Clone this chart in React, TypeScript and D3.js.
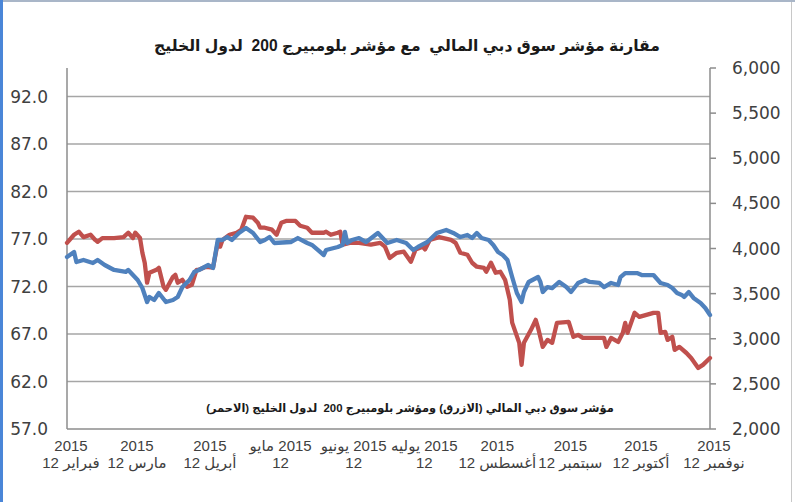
import React from 'react';
import * as d3 from 'd3';

// Bloomberg GCC 200 (left axis, red)
const gccSeries: [string, number][] = [
  ['2015-02-12', 76.6], ['2015-02-15', 77.45], ['2015-02-17', 77.77], ['2015-02-19', 77.2],
  ['2015-02-22', 77.45], ['2015-02-24', 76.9], ['2015-02-25', 76.7], ['2015-02-27', 77.1],
  ['2015-03-04', 77.1], ['2015-03-08', 77.2], ['2015-03-10', 77.66], ['2015-03-12', 77.1],
  ['2015-03-13', 77.66], ['2015-03-15', 77.1], ['2015-03-16', 75.55], ['2015-03-17', 74.5],
  ['2015-03-18', 72.4], ['2015-03-19', 73.45], ['2015-03-22', 73.76], ['2015-03-23', 73.97],
  ['2015-03-25', 71.97], ['2015-03-26', 71.65], ['2015-03-29', 73.02], ['2015-03-30', 73.23],
  ['2015-03-31', 72.4], ['2015-04-02', 72.7], ['2015-04-04', 71.97], ['2015-04-06', 72.18],
  ['2015-04-08', 73.76], ['2015-04-09', 73.76], ['2015-04-12', 74.08], ['2015-04-15', 74.0],
  ['2015-04-17', 76.6], ['2015-04-18', 76.19], ['2015-04-19', 76.9], ['2015-04-22', 77.45],
  ['2015-04-25', 77.66], ['2015-04-27', 77.98], ['2015-04-29', 79.34], ['2015-05-02', 79.24],
  ['2015-05-04', 78.72], ['2015-05-05', 78.19], ['2015-05-07', 78.19], ['2015-05-10', 77.98],
  ['2015-05-12', 77.45], ['2015-05-14', 78.72], ['2015-05-16', 78.9], ['2015-05-20', 78.9],
  ['2015-05-22', 78.4], ['2015-05-25', 78.19], ['2015-05-27', 77.66], ['2015-06-01', 77.66],
  ['2015-06-02', 77.77], ['2015-06-04', 77.45], ['2015-06-07', 77.66], ['2015-06-08', 77.77],
  ['2015-06-09', 76.4], ['2015-06-12', 76.6], ['2015-06-16', 76.6], ['2015-06-21', 76.4],
  ['2015-06-25', 76.6], ['2015-06-27', 76.19], ['2015-06-29', 75.0], ['2015-07-02', 75.55],
  ['2015-07-05', 75.66], ['2015-07-08', 74.6], ['2015-07-10', 75.9], ['2015-07-13', 76.19],
  ['2015-07-14', 75.9], ['2015-07-16', 76.9], ['2015-07-20', 77.2], ['2015-07-25', 76.9],
  ['2015-07-27', 76.6], ['2015-07-29', 75.55], ['2015-08-01', 75.34], ['2015-08-03', 74.5],
  ['2015-08-05', 74.08], ['2015-08-08', 73.97], ['2015-08-09', 73.55], ['2015-08-11', 74.5],
  ['2015-08-13', 73.45], ['2015-08-15', 73.55], ['2015-08-17', 72.7], ['2015-08-19', 70.6],
  ['2015-08-20', 68.2], ['2015-08-23', 66.07], ['2015-08-24', 63.75], ['2015-08-25', 66.07],
  ['2015-08-28', 67.44], ['2015-08-30', 68.49], ['2015-08-31', 67.65], ['2015-09-02', 65.64],
  ['2015-09-04', 66.38], ['2015-09-06', 66.07], ['2015-09-08', 68.17], ['2015-09-13', 68.28],
  ['2015-09-15', 66.7], ['2015-09-17', 66.91], ['2015-09-19', 66.59], ['2015-09-28', 66.59],
  ['2015-09-29', 65.64], ['2015-10-01', 66.59], ['2015-10-04', 66.17], ['2015-10-06', 67.12],
  ['2015-10-07', 68.17], ['2015-10-08', 67.12], ['2015-10-11', 69.23], ['2015-10-13', 68.8],
  ['2015-10-19', 69.23], ['2015-10-21', 69.23], ['2015-10-22', 67.12], ['2015-10-24', 67.23],
  ['2015-10-25', 66.38], ['2015-10-27', 66.7], ['2015-10-28', 65.33], ['2015-10-30', 65.64],
  ['2015-11-02', 65.0], ['2015-11-04', 64.48], ['2015-11-07', 63.43], ['2015-11-09', 63.75],
  ['2015-11-12', 64.48],
];

// Dubai Financial Market index (right axis, blue)
const dfmSeries: [string, number][] = [
  ['2015-02-12', 3906], ['2015-02-15', 3961], ['2015-02-16', 3850], ['2015-02-19', 3873],
  ['2015-02-23', 3839], ['2015-02-25', 3873], ['2015-02-28', 3817], ['2015-03-04', 3762],
  ['2015-03-09', 3740], ['2015-03-10', 3762], ['2015-03-12', 3706], ['2015-03-14', 3651],
  ['2015-03-16', 3562], ['2015-03-18', 3407], ['2015-03-19', 3463], ['2015-03-21', 3429],
  ['2015-03-23', 3507], ['2015-03-26', 3407], ['2015-03-29', 3429], ['2015-03-31', 3463],
  ['2015-04-02', 3573], ['2015-04-05', 3651], ['2015-04-07', 3740], ['2015-04-09', 3762],
  ['2015-04-13', 3817], ['2015-04-15', 3784], ['2015-04-17', 4094], ['2015-04-19', 4094],
  ['2015-04-21', 4127], ['2015-04-23', 4094], ['2015-04-26', 4172], ['2015-04-29', 4227],
  ['2015-05-02', 4172], ['2015-05-05', 4072], ['2015-05-07', 4094], ['2015-05-09', 4127],
  ['2015-05-11', 4061], ['2015-05-18', 4072], ['2015-05-21', 4116], ['2015-05-25', 4061],
  ['2015-05-27', 4039], ['2015-06-01', 3928], ['2015-06-02', 3983], ['2015-06-07', 4017],
  ['2015-06-09', 4039], ['2015-06-10', 4183], ['2015-06-11', 4061], ['2015-06-13', 4094],
  ['2015-06-16', 4116], ['2015-06-19', 4072], ['2015-06-24', 4172], ['2015-06-28', 4061],
  ['2015-07-02', 4094], ['2015-07-06', 4061], ['2015-07-09', 3983], ['2015-07-11', 4017],
  ['2015-07-15', 4072], ['2015-07-19', 4172], ['2015-07-23', 4205], ['2015-07-26', 4172],
  ['2015-07-29', 4127], ['2015-08-01', 4150], ['2015-08-03', 4116], ['2015-08-05', 4172],
  ['2015-08-07', 4116], ['2015-08-10', 4094], ['2015-08-12', 4039], ['2015-08-14', 3961],
  ['2015-08-16', 3928], ['2015-08-18', 3873], ['2015-08-20', 3684], ['2015-08-22', 3507],
  ['2015-08-24', 3407], ['2015-08-25', 3518], ['2015-08-27', 3629], ['2015-08-31', 3684],
  ['2015-09-01', 3629], ['2015-09-02', 3518], ['2015-09-04', 3573], ['2015-09-06', 3562],
  ['2015-09-09', 3629], ['2015-09-12', 3573], ['2015-09-14', 3518], ['2015-09-17', 3618],
  ['2015-09-20', 3651], ['2015-09-22', 3629], ['2015-09-26', 3618], ['2015-09-28', 3573],
  ['2015-10-01', 3618], ['2015-10-04', 3596], ['2015-10-05', 3684], ['2015-10-07', 3728],
  ['2015-10-12', 3728], ['2015-10-14', 3706], ['2015-10-19', 3706], ['2015-10-22', 3618],
  ['2015-10-25', 3596], ['2015-10-27', 3562], ['2015-10-29', 3507], ['2015-10-31', 3485],
  ['2015-11-01', 3463], ['2015-11-03', 3518], ['2015-11-05', 3452], ['2015-11-08', 3396],
  ['2015-11-10', 3341], ['2015-11-12', 3263],
];

const leftTicks = [57, 62, 67, 72, 77, 82, 87, 92];
const rightTicks = [2000, 2500, 3000, 3500, 4000, 4500, 5000, 5500, 6000];
const monthTicks = [
  '2015-02-12', '2015-03-12', '2015-04-12', '2015-05-12', '2015-06-12',
  '2015-07-12', '2015-08-12', '2015-09-12', '2015-10-12', '2015-11-12',
];
const monthLabels: string[][] = [
  ['2015', 'فبراير 12'],
  ['2015', 'مارس 12'],
  ['2015', 'أبريل 12'],
  ['2015 مايو', '12'],
  ['2015 يونيو', '12'],
  ['2015 يوليه', '12'],
  ['2015', 'أغسطس 12'],
  ['2015', 'سبتمبر 12'],
  ['2015', 'أكتوبر 12'],
  ['2015', 'نوفمبر 12'],
];
const title = 'مقارنة مؤشر سوق دبي المالي  مع مؤشر بلومبيرج 200  لدول الخليج';
const note = 'مؤشر سوق دبي المالي (الازرق) ومؤشر بلومبيرج 200  لدول الخليج (الاحمر)';

const parse = d3.utcParse('%Y-%m-%d');

export default function App() {
  const W = 795, H = 502;
  const left = 67, right = 710, top = 68, bottom = 429;

  const x = d3.scaleUtc()
    .domain([parse('2015-02-12') as Date, parse('2015-11-12') as Date])
    .range([left, right]);
  const yL = d3.scaleLinear().domain([57, 95]).range([bottom, top]);
  const yR = d3.scaleLinear().domain([2000, 6000]).range([bottom, top]);

  const lineL = d3.line<[string, number]>()
    .x(d => x(parse(d[0]) as Date))
    .y(d => yL(d[1]));
  const lineR = d3.line<[string, number]>()
    .x(d => x(parse(d[0]) as Date))
    .y(d => yR(d[1]));

  const fmtR = d3.format(',');
  const tickFont = "'DejaVu Sans', Verdana, sans-serif";
  const labelFont = "'Liberation Sans', Arial, 'DejaVu Sans', sans-serif";

  return (
    <div style={{ position: 'fixed', left: 0, top: 0, width: W, height: H, background: '#fff' }}>
      <svg width={W} height={H} style={{ display: 'block' }}>
        <rect width={W} height={H} fill="#fff" />
        {/* window frame */}
        <rect x={0} y={0} width={W} height={2} fill="#a9b6c8" />
        <rect x={0} y={0} width={3} height={H} fill="#4a86d8" />
        <rect x={791} y={2} width={1} height={H} fill="#c8c8c8" />

        <text x={407} y={51} textAnchor="middle" fontFamily={labelFont} fontWeight="bold"
          fontSize={15.6} fill="#1a1a1a" direction="rtl" style={{ whiteSpace: 'pre' }}>{title}</text>

        {/* gridlines */}
        {leftTicks.filter(t => t > 57).map(t => (
          <line key={t} x1={left} x2={right} y1={yL(t)} y2={yL(t)} stroke="#a6a6a6" strokeWidth={1.5} />
        ))}
        {/* axes */}
        <line x1={left} x2={left} y1={top} y2={bottom} stroke="#8c8c8c" strokeWidth={1.5} />
        <line x1={right} x2={right} y1={top} y2={bottom} stroke="#8c8c8c" strokeWidth={1.5} />
        <line x1={left} x2={right} y1={bottom} y2={bottom} stroke="#8c8c8c" strokeWidth={1.5} />
        {rightTicks.map(t => (
          <line key={t} x1={right} x2={right + 6} y1={yR(t)} y2={yR(t)} stroke="#8c8c8c" strokeWidth={1.5} />
        ))}

        {leftTicks.map(t => (
          <text key={t} x={48} y={yL(t)} dy="0.36em" textAnchor="end" fontFamily={tickFont}
            fontSize={17} fill="#404040">{t.toFixed(1)}</text>
        ))}
        {rightTicks.map(t => (
          <text key={t} x={732} y={yR(t)} dy="0.36em" textAnchor="start" fontFamily={tickFont}
            fontSize={17} fill="#404040">{fmtR(t)}</text>
        ))}

        {monthTicks.map((d, i) => (
          <g key={d} transform={`translate(${x(parse(d) as Date) + 4},0)`}>
            {monthLabels[i].map((s, j) => (
              <text key={j} x={0} y={451 + j * 17} textAnchor="middle" direction="rtl"
                fontFamily={labelFont} fontSize={15} fill="#404040">{s}</text>
            ))}
          </g>
        ))}

        <path d={lineL(gccSeries) || ''} fill="none" stroke="#c0504d" strokeWidth={4.3}
          strokeLinejoin="round" strokeLinecap="round" />
        <path d={lineR(dfmSeries) || ''} fill="none" stroke="#4f81bd" strokeWidth={4.3}
          strokeLinejoin="round" strokeLinecap="round" />

        <text x={410} y={412} textAnchor="middle" direction="rtl" fontFamily={labelFont}
          fontWeight="bold" fontSize={11.4} fill="#1a1a1a" style={{ whiteSpace: 'pre' }}>{note}</text>
      </svg>
    </div>
  );
}
